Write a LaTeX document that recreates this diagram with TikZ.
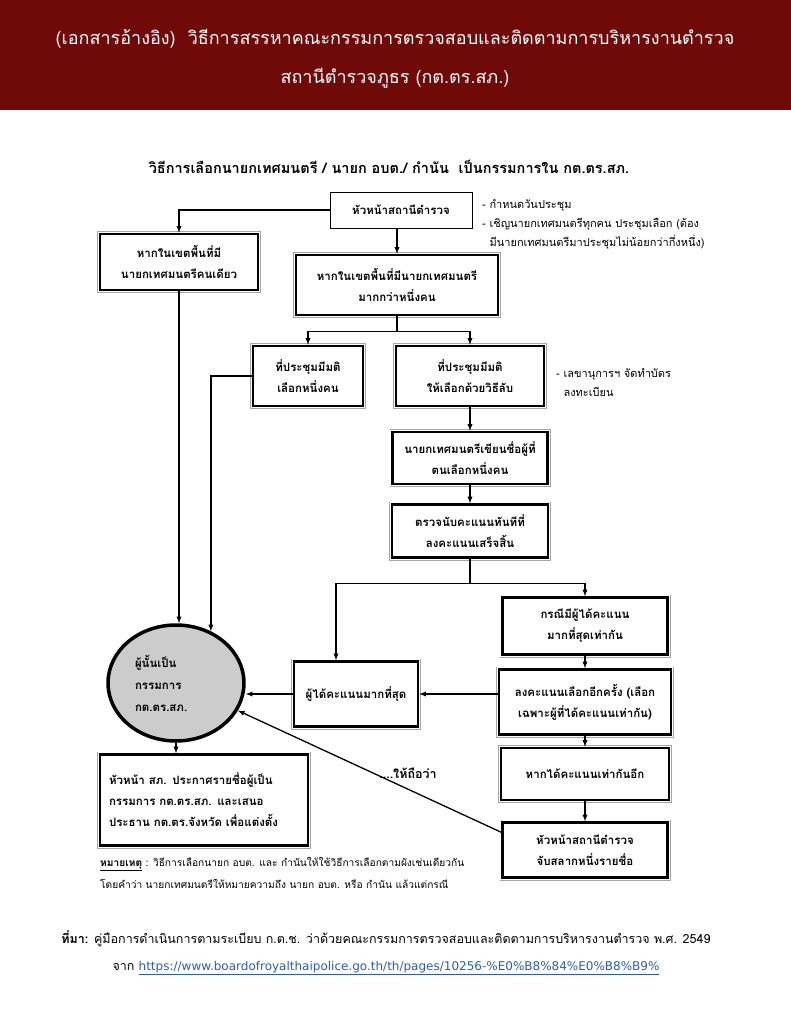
\documentclass[tikz,border=0pt]{standalone}
\usepackage{fontspec}
\setmainfont{Loma}[Script=Thai]
\newfontfamily\urlfont{DejaVu Sans}
\usetikzlibrary{shapes,arrows,positioning,calc}
\usepackage{xcolor}
\definecolor{titlered}{RGB}{112,10,8}
\definecolor{linkblue}{RGB}{40,90,200}

\begin{document}
\begin{tikzpicture}[x=1pt, y=-1pt,
    box/.style={draw=black, line width=2.4pt, fill=white, align=center, inner sep=2pt,
      preaction={draw=gray!70, line width=6pt},
      preaction={draw=white, line width=4.4pt},
      font=\bfseries\fontsize{11.5}{21}\selectfont},
    arr/.style={-latex, line width=1.3pt},
    note/.style={anchor=west, align=left, inner sep=0pt, font=\fontsize{11}{19}\selectfont}]
            \useasboundingbox (0,0) rectangle (791,1024);

            % Title bar
            \fill[titlered] (0,0) rectangle (791,110);
            \node[text=white, align=center, font=\fontsize{18}{39}\selectfont] (Title) at (395,59)
                {(เอกสารอ้างอิง)\ \ วิธีการสรรหาคณะกรรมการตรวจสอบและติดตามการบริหารงานตำรวจ\\
                 สถานีตำรวจภูธร (กต.ตร.สภ.)};

            % Chart title
            \node[font=\bfseries\fontsize{14.5}{16}\selectfont] (Heading) at (389,167)
                {วิธีการเลือกนายกเทศมนตรี / นายก อบต./ กำนัน\ \ เป็นกรรมการใน กต.ตร.สภ.};

            % Head of station
            \node[draw, line width=0.7pt, minimum width=142pt, minimum height=36pt,
                  font=\bfseries\fontsize{11.5}{21}\selectfont] (Head) at (401,210) {หัวหน้าสถานีตำรวจ};
            \node[note] (HeadNote) at (482,224)
                {- กำหนดวันประชุม\\
                 - เชิญนายกเทศมนตรีทุกคน ประชุมเลือก (ต้อง\\
                 \ \ มีนายกเทศมนตรีมาประชุมไม่น้อยกว่ากึ่งหนึ่ง)};

            % Left branch (one mayor)
            \node[box, minimum width=158pt, minimum height=56pt] (Single) at (179,262)
                {หากในเขตพื้นที่มี\\นายกเทศมนตรีคนเดียว};
            \draw[arr] (Head.west) -| (Single.north);

            % Right branch (more than one)
            \node[box, minimum width=202pt, minimum height=60pt] (Many) at (397,285)
                {หากในเขตพื้นที่มีนายกเทศมนตรี\\มากกว่าหนึ่งคน};
            \draw[arr] (Head.south -| Many.north) -- (Many.north);

            \node[box, minimum width=110pt, minimum height=60pt] (Agree) at (308,376)
                {ที่ประชุมมีมติ\\เลือกหนึ่งคน};
            \node[box, minimum width=148pt, minimum height=60pt] (Secret) at (470,376)
                {ที่ประชุมมีมติ\\ให้เลือกด้วยวิธีลับ};
            \draw[line width=1.3pt] (Many.south) -- ++(0,15) coordinate (Split);
            \draw[arr] (Split) -| (Agree.north);
            \draw[arr] (Split) -| (Secret.north);
            \node[note] (SecretNote) at (556,383) {- เลขานุการฯ จัดทำบัตร\\\ \ ลงทะเบียน};

            \node[box, minimum width=155pt, minimum height=52pt] (Write) at (470,458)
                {นายกเทศมนตรีเขียนชื่อผู้ที่\\ตนเลือกหนึ่งคน};
            \node[box, minimum width=156pt, minimum height=53pt] (Count) at (470,531)
                {ตรวจนับคะแนนทันทีที่\\ลงคะแนนเสร็จสิ้น};
            \draw[arr] (Secret) -- (Write);
            \draw[arr] (Write) -- (Count);

            % Results
            \node[box, minimum width=124pt, minimum height=65pt] (Most) at (356,694) {ผู้ได้คะแนนมากที่สุด};
            \node[box, minimum width=165pt, minimum height=57pt] (Tie) at (585,626)
                {กรณีมีผู้ได้คะแนน\\มากที่สุดเท่ากัน};
            \draw[line width=1.3pt] (Count.south) -- ++(0,25) coordinate (Split2);
            \draw[arr] (Split2) -| ([xshift=-20pt]Most.north);
            \draw[arr] (Split2) -| (Tie.north);

            \node[box, minimum width=172pt, minimum height=65pt] (Revote) at (585,702)
                {ลงคะแนนเลือกอีกครั้ง (เลือก\\เฉพาะผู้ที่ได้คะแนนเท่ากัน)};
            \node[box, minimum width=168pt, minimum height=52pt] (TieAgain) at (585,774) {หากได้คะแนนเท่ากันอีก};
            \node[box, minimum width=165pt, minimum height=55pt] (Draw) at (585,850)
                {หัวหน้าสถานีตำรวจ\\จับสลากหนึ่งรายชื่อ};
            \draw[arr] (Tie) -- (Revote);
            \draw[arr] (Revote) -- (TieAgain);
            \draw[arr] (TieAgain) -- (Draw);
            \draw[arr] (Revote.west |- Most.east) -- (Most.east);

            % Member
            \node[draw, ellipse, line width=3.5pt, fill=gray!40, minimum width=136pt, minimum height=116pt,
                  text width=82pt, align=left, font=\bfseries\fontsize{11.5}{22}\selectfont] (Member) at (176,683)
                {ผู้นั้นเป็น\\กรรมการ\\กต.ตร.สภ.};
            \draw[arr] (Single.south) -- (Single.south |- Member.north);
            \draw[arr] (Agree.west) -| (Member.56);
            \draw[arr] (Most.west) -- (Most.west -| Member.east);
            \draw[arr] ([yshift=-11pt]Draw.north west) -- (Member.-24);
            \node[font=\bfseries\fontsize{12.5}{14}\selectfont] (Deem) at (408,773) {....ให้ถือว่า};

            % Announcement
            \node[box, minimum width=208pt, minimum height=91pt, text width=190pt, align=left] (Announce) at (204,800)
                {หัวหน้า สภ. ประกาศรายชื่อผู้เป็น\\กรรมการ กต.ตร.สภ. และเสนอ\\ประธาน กต.ตร.จังหวัด เพื่อแต่งตั้ง};
            \draw[arr] (Member.south) -- (Member.south |- Announce.north);

            % Remark
            \node[note, font=\fontsize{10.2}{22}\selectfont] (Remark) at (100,873)
                {\underline{\textbf{หมายเหตุ}} : วิธีการเลือกนายก อบต. และ กำนันให้ใช้วิธีการเลือกตามผังเช่นเดียวกัน\\
                 โดยคำว่า นายกเทศมนตรีให้หมายความถึง นายก อบต. หรือ กำนัน แล้วแต่กรณี};

            % Source
            \node[align=center, font=\fontsize{12.5}{27}\selectfont] (Source) at (386,953)
                {\textbf{ที่มา:} คู่มือการดำเนินการตามระเบียบ ก.ต.ช. ว่าด้วยคณะกรรมการตรวจสอบและติดตามการบริหารงานตำรวจ พ.ศ. 2549\\
                 จาก \textcolor{linkblue}{\underline{\urlfont\fontsize{12}{27}\selectfont https://www.boardofroyalthaipolice.go.th/th/pages/10256-\%E0\%B8\%84\%E0\%B8\%B9\%}}};
        \end{tikzpicture}
\end{document}
